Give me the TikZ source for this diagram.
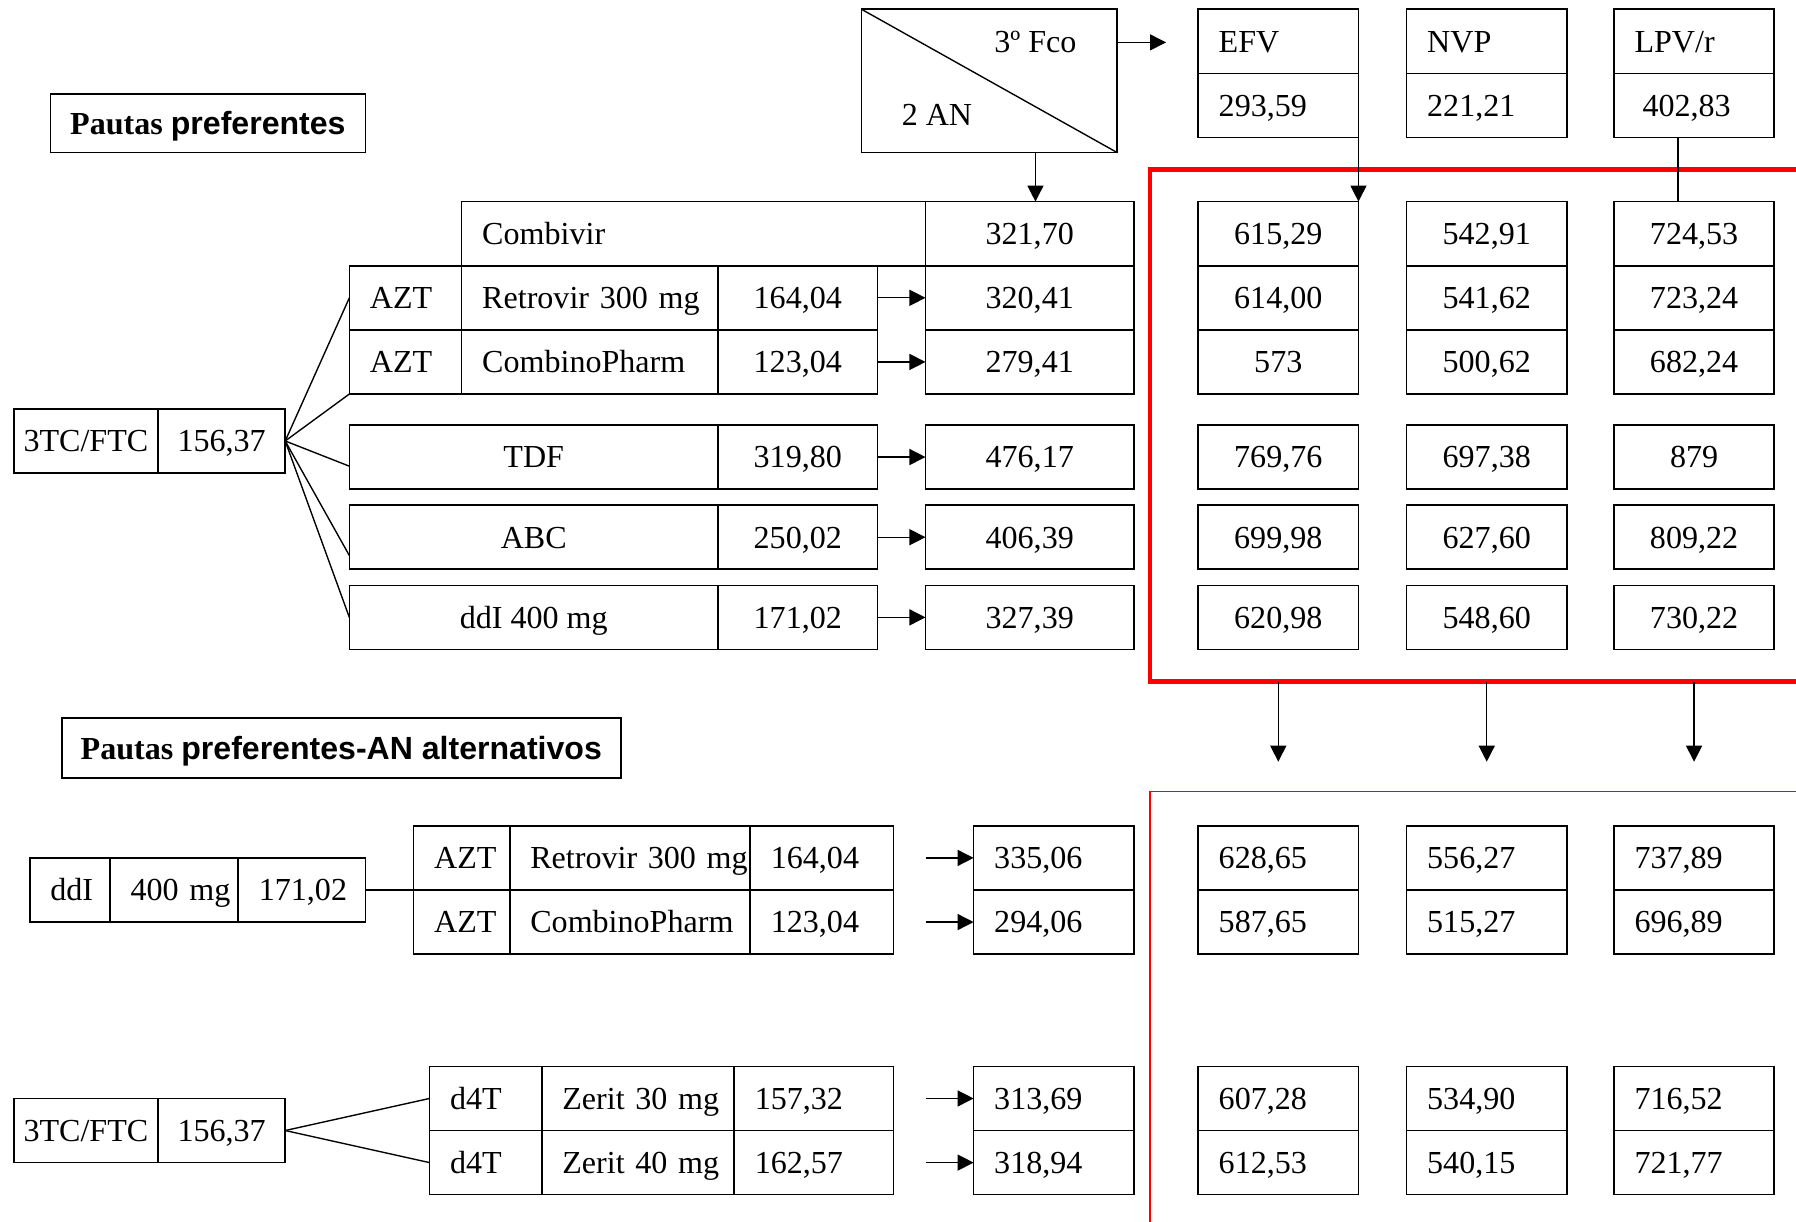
\documentclass[tikz,border=0pt]{standalone}
\usepackage{fontspec}
\setmainfont{Liberation Serif}
\setsansfont{Liberation Sans}
\usepackage{tikz}
\usetikzlibrary{arrows.meta, positioning}

\begin{document}
\begin{tikzpicture}[
    x=0.5pt, y=-0.5pt,
    >={Triangle[length=7pt, width=7pt]},
    font=\fontsize{14pt}{16pt}\selectfont,
    celda/.style={
        rectangle,
        draw,
        line width=0.7pt,
        outer sep=0pt,
        inner xsep=2pt,
        inner ysep=0pt,
        minimum width=70pt,
        minimum height=28pt,
        text height=9.5pt,
        text depth=0pt
    },
    izq/.style={text width=#1, align=left, inner xsep=9pt},
    titulo/.style={
        rectangle,
        draw,
        line width=0.7pt,
        inner sep=0pt,
        text height=10pt,
        text depth=0pt,
        font=\fontsize{14pt}{16pt}\selectfont\bfseries
    },
    flecha/.style={->, line width=0.6pt},
    linea/.style={line width=0.6pt},
    marco/.style={draw=red, line width=1.8pt},
    marcofino/.style={draw=red, line width=0.6pt}
]
\useasboundingbox (0,0) rectangle (1568,1066);

\draw[marco] (1580,148) -- (1004,148) -- (1004,595) -- (1580,595);
\draw[marcofino] (1580,691) -- (1004,691) -- (1004,1080);

\node[celda, anchor=north west, minimum width=111.5pt, minimum height=62.5pt] (diag) at (752,8) {};
\node (fco) at (904,37) {3º Fco};
\node (an) at (818,100) {2 AN};
\coordinate (haciaEFV) at (1018,37);

\node[celda, izq=52pt, anchor=north west] (efvH) at (1046,8) {EFV};
\node[celda, izq=52pt, below=0pt of efvH] (efvV) {293,59};
\node[celda, izq=52pt, anchor=north west] (nvpH) at (1228,8) {NVP};
\node[celda, izq=52pt, below=0pt of nvpH] (nvpV) {221,21};
\node[celda, izq=52pt, anchor=north west] (lpvH) at (1409,8) {LPV/r};
\node[celda, izq=52pt, below=0pt of lpvH] (lpvV) {\hspace*{3.5pt}402,83};

\node[titulo, minimum width=137.5pt, minimum height=25.5pt] (pautas) at (181.5,107.5) {Pautas \sffamily preferentes};

\node[celda, izq=184.5pt, minimum width=202.5pt, anchor=north west] (comb) at (403,176) {Combivir};
\node[celda, minimum width=91pt, right=0pt of comb] (c1) {321,70};
\node[celda, izq=31pt, minimum width=49pt, anchor=north west] (a1) at (305,232) {AZT};
\node[celda, izq=94pt, minimum width=112pt, right=0pt of a1] (r1) {\mbox{Retrovir 300 mg}};
\node[celda, minimum width=69.5pt, right=0pt of r1] (p1) {164,04};
\node[celda, minimum width=91pt, below=0pt of c1] (c2) {320,41};
\node[celda, izq=31pt, minimum width=49pt, below=0pt of a1] (a2) {AZT};
\node[celda, izq=94pt, minimum width=112pt, below=0pt of r1] (r2) {\mbox{CombinoPharm}};
\node[celda, minimum width=69.5pt, below=0pt of p1] (p2) {123,04};
\node[celda, minimum width=91pt, below=0pt of c2] (c3) {279,41};

\node[celda, minimum width=161pt, anchor=north west] (tdf) at (305,371) {TDF};
\node[celda, minimum width=69.5pt, right=0pt of tdf] (ptdf) {319,80};
\node[celda, minimum width=91pt, anchor=north west] (c4) at (808,371) {476,17};
\node[celda, minimum width=161pt, anchor=north west] (abc) at (305,441) {ABC};
\node[celda, minimum width=69.5pt, right=0pt of abc] (pabc) {250,02};
\node[celda, minimum width=91pt, anchor=north west] (c5) at (808,441) {406,39};
\node[celda, minimum width=161pt, anchor=north west] (ddi) at (305,511) {ddI 400 mg};
\node[celda, minimum width=69.5pt, right=0pt of ddi] (pddi) {171,02};
\node[celda, minimum width=91pt, anchor=north west] (c6) at (808,511) {327,39};

\node[celda, minimum width=63pt, anchor=north west] (tc) at (12,357) {3TC/FTC};
\node[celda, minimum width=55.5pt, right=0pt of tc] (v1) {156,37};

\node[celda, anchor=north west] (e1) at (1046,176) {615,29};
\node[celda, below=0pt of e1] (e2) {614,00};
\node[celda, below=0pt of e2] (e3) {573};
\node[celda, anchor=north west] (e4) at (1046,371) {769,76};
\node[celda, anchor=north west] (e5) at (1046,441) {699,98};
\node[celda, anchor=north west] (e6) at (1046,511) {620,98};
\node[celda, anchor=north west] (n1) at (1228,176) {542,91};
\node[celda, below=0pt of n1] (n2) {541,62};
\node[celda, below=0pt of n2] (n3) {500,62};
\node[celda, anchor=north west] (n4) at (1228,371) {697,38};
\node[celda, anchor=north west] (n5) at (1228,441) {627,60};
\node[celda, anchor=north west] (n6) at (1228,511) {548,60};
\node[celda, anchor=north west] (l1) at (1409,176) {724,53};
\node[celda, below=0pt of l1] (l2) {723,24};
\node[celda, below=0pt of l2] (l3) {682,24};
\node[celda, anchor=north west] (l4) at (1409,371) {879};
\node[celda, anchor=north west] (l5) at (1409,441) {809,22};
\node[celda, anchor=north west] (l6) at (1409,511) {730,22};

\coordinate (marcoBase) at (1004,595);
\coordinate (flechaFin) at (1004,665);

\node[titulo, minimum width=244pt, minimum height=26pt] (alternativos) at (298,653) {Pautas \sffamily preferentes-AN alternativos};

\node[celda, izq=17pt, minimum width=35pt, anchor=north west] (m1) at (26,749) {ddI};
\node[celda, izq=38pt, minimum width=56pt, right=0pt of m1] (m2) {\mbox{400 mg}};
\node[celda, izq=37.5pt, minimum width=55.5pt, right=0pt of m2] (m3) {171,02};
\node[celda, izq=24pt, minimum width=42pt, anchor=north west] (b1) at (361,721) {AZT};
\node[celda, izq=87pt, minimum width=105pt, right=0pt of b1] (rb1) {\mbox{Retrovir 300 mg}};
\node[celda, izq=44.5pt, minimum width=62.5pt, right=0pt of rb1] (pb1) {164,04};
\node[celda, izq=24pt, minimum width=42pt, below=0pt of b1] (b2) {AZT};
\node[celda, izq=87pt, minimum width=105pt, below=0pt of rb1] (rb2) {\mbox{CombinoPharm}};
\node[celda, izq=44.5pt, minimum width=62.5pt, below=0pt of pb1] (pb2) {123,04};
\node[celda, izq=52pt, anchor=north west] (x1) at (850,721) {335,06};
\node[celda, izq=52pt, below=0pt of x1] (x2) {294,06};
\node[celda, izq=52pt, anchor=north west] (e7) at (1046,721) {628,65};
\node[celda, izq=52pt, below=0pt of e7] (e8) {587,65};
\node[celda, izq=52pt, anchor=north west] (n7) at (1228,721) {556,27};
\node[celda, izq=52pt, below=0pt of n7] (n8) {515,27};
\node[celda, izq=52pt, anchor=north west] (l7) at (1409,721) {737,89};
\node[celda, izq=52pt, below=0pt of l7] (l8) {696,89};

\node[celda, minimum width=63pt, anchor=north west] (tc2) at (12,959) {3TC/FTC};
\node[celda, minimum width=55.5pt, right=0pt of tc2] (v2) {156,37};
\node[celda, izq=31pt, minimum width=49pt, anchor=north west] (d1) at (375,931) {d4T};
\node[celda, izq=66pt, minimum width=84pt, right=0pt of d1] (z1) {\mbox{Zerit 30 mg}};
\node[celda, izq=51.5pt, minimum width=69.5pt, right=0pt of z1] (q1) {157,32};
\node[celda, izq=31pt, minimum width=49pt, below=0pt of d1] (d2) {d4T};
\node[celda, izq=66pt, minimum width=84pt, below=0pt of z1] (z2) {\mbox{Zerit 40 mg}};
\node[celda, izq=51.5pt, minimum width=69.5pt, below=0pt of q1] (q2) {162,57};
\node[celda, izq=52pt, anchor=north west] (y1) at (850,931) {313,69};
\node[celda, izq=52pt, below=0pt of y1] (y2) {318,94};
\node[celda, izq=52pt, anchor=north west] (e9) at (1046,931) {607,28};
\node[celda, izq=52pt, below=0pt of e9] (e10) {612,53};
\node[celda, izq=52pt, anchor=north west] (n9) at (1228,931) {534,90};
\node[celda, izq=52pt, below=0pt of n9] (n10) {540,15};
\node[celda, izq=52pt, anchor=north west] (l9) at (1409,931) {716,52};
\node[celda, izq=52pt, below=0pt of l9] (l10) {721,77};

\draw[linea] (diag.north west) -- (diag.south east);
\draw[flecha] (diag.east |- fco) -- (haciaEFV);
\draw[flecha] (diag.south -| fco) -- (c1.north -| fco);
\draw[flecha] (efvV.south east) -- (e1.north east);
\draw[linea] ([xshift=-7pt]lpvV.south) -- ([xshift=-7pt]l1.north);

\draw[flecha] (p1) -- (c2);
\draw[flecha] (p2) -- (c3);
\draw[flecha] (ptdf) -- (c4);
\draw[flecha] (pabc) -- (c5);
\draw[flecha] (pddi) -- (c6);

\draw[linea] (v1.east) -- (a1.west);
\draw[linea] (v1.east) -- (a2.south west);
\draw[linea] (v1.east) -- ([yshift=-4pt]tdf.west);
\draw[linea] (v1.east) -- ([yshift=6pt]abc.south west);
\draw[linea] (v1.east) -- (ddi.west);

\draw[flecha] (e6.south |- marcoBase) -- (e6.south |- flechaFin);
\draw[flecha] (n6.south |- marcoBase) -- (n6.south |- flechaFin);
\draw[flecha] (l6.south |- marcoBase) -- (l6.south |- flechaFin);

\draw[linea] (m3.east) -- (b1.south west);
\draw[flecha, shorten <=14pt] (pb1) -- (x1);
\draw[flecha, shorten <=14pt] (pb2) -- (x2);

\draw[linea] (v2.east) -- (d1.west);
\draw[linea] (v2.east) -- (d2.west);
\draw[flecha, shorten <=14pt] (q1) -- (y1);
\draw[flecha, shorten <=14pt] (q2) -- (y2);

\end{tikzpicture}
\end{document}
